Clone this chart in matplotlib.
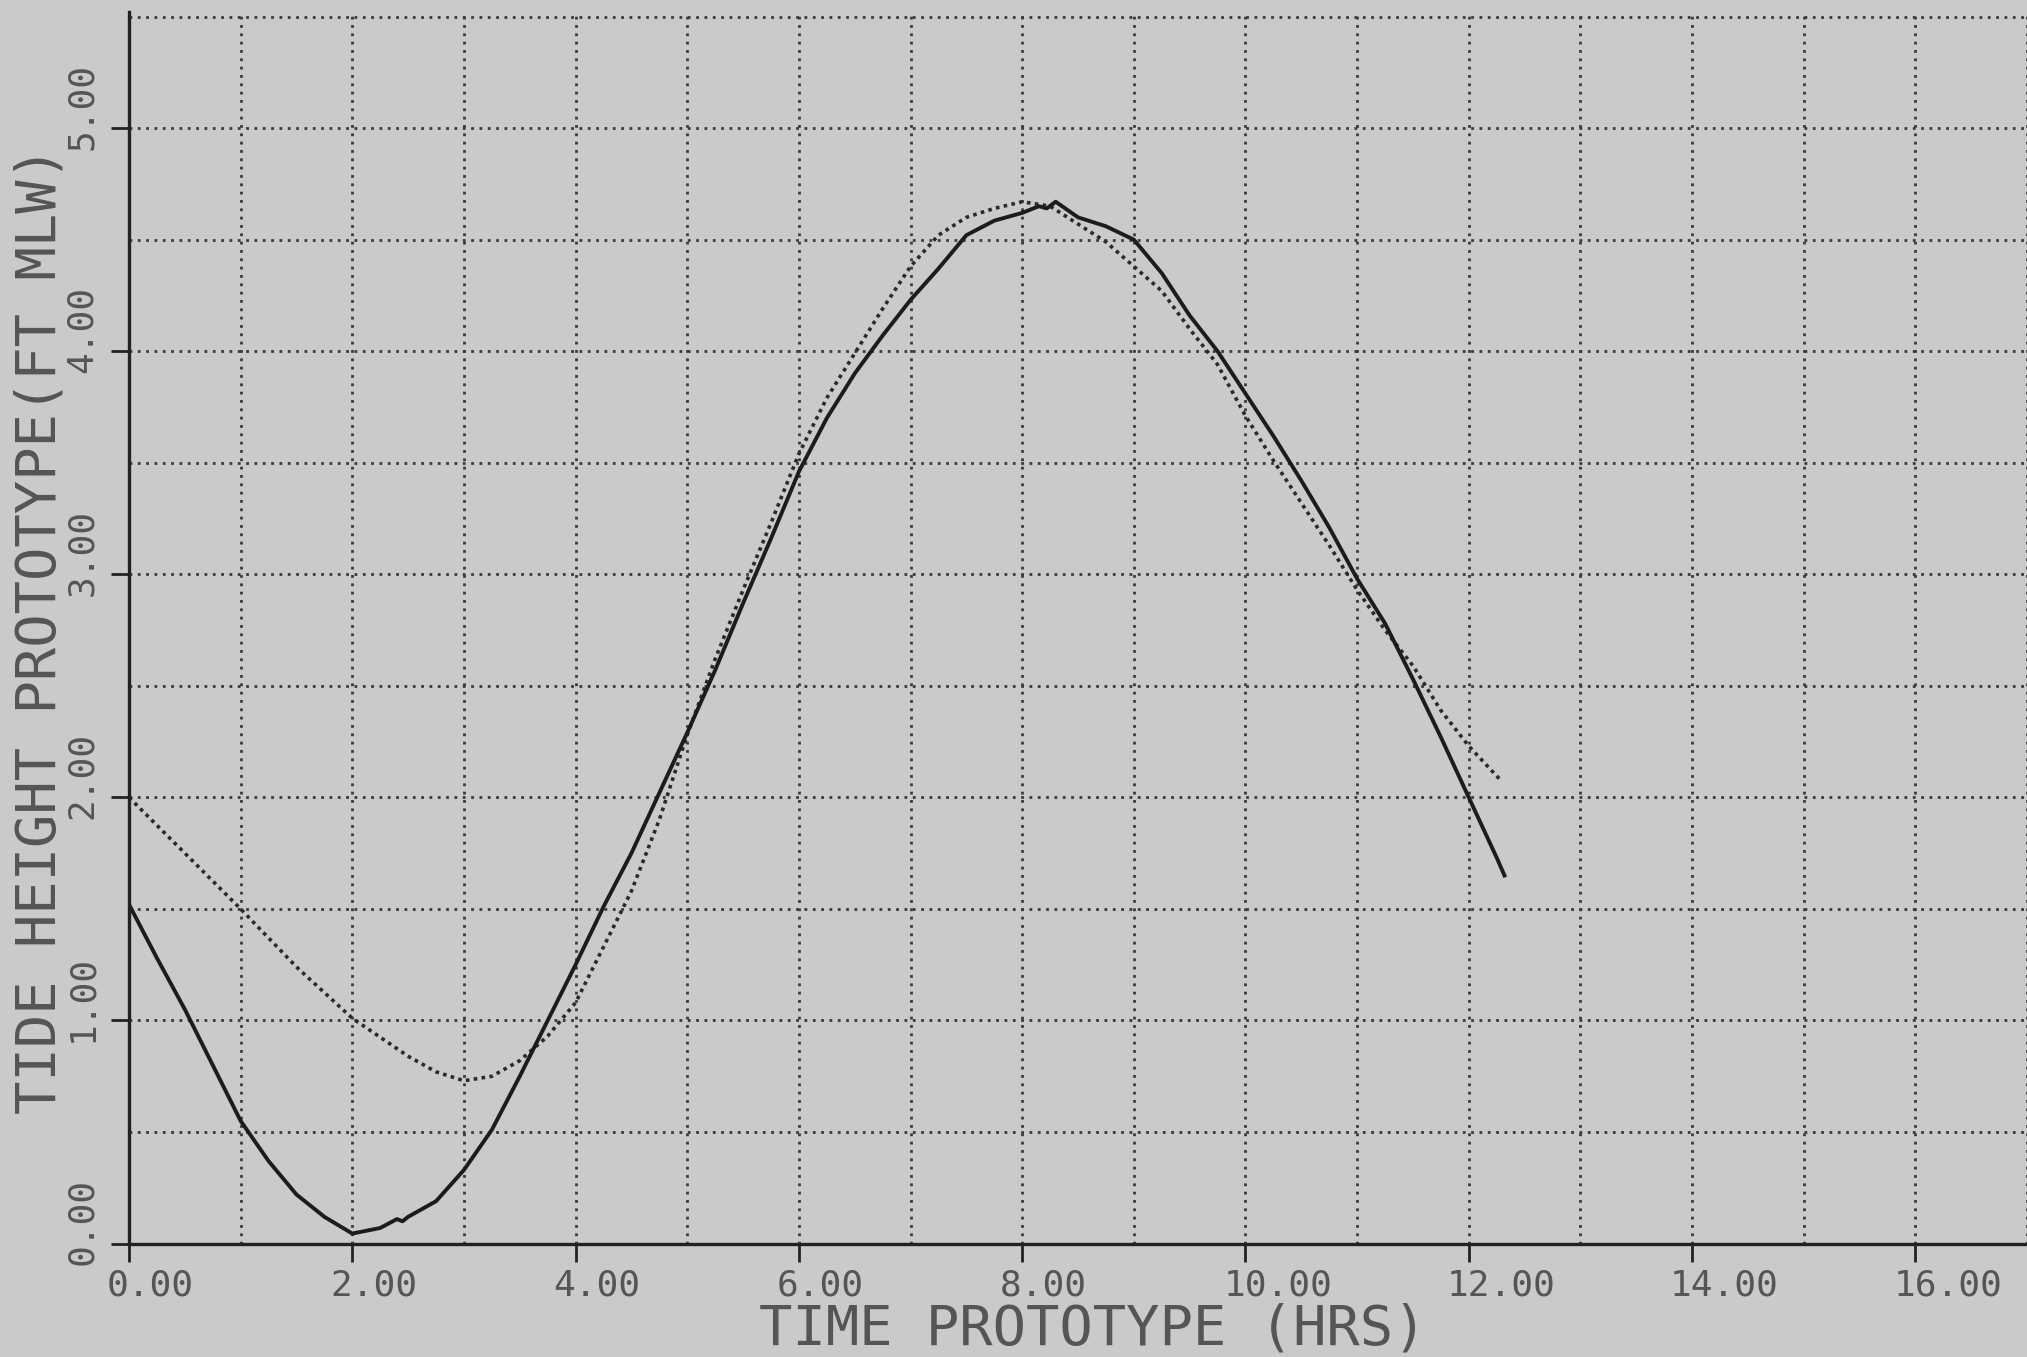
import matplotlib
matplotlib.use("Agg")
import matplotlib.pyplot as plt
import matplotlib.transforms as mtransforms

# ---------------- data ----------------
time_solid = [0, 0.25, 0.5, 0.75, 1.0, 1.25, 1.5, 1.75, 2.0, 2.25, 2.4, 2.45, 2.5,
              2.75, 3.0, 3.25, 3.5, 3.75, 4.0, 4.25, 4.5, 4.75, 5.0, 5.25, 5.5,
              5.75, 6.0, 6.25, 6.5, 6.75, 7.0, 7.25, 7.5, 7.75, 8.0, 8.15, 8.22,
              8.3, 8.5, 8.75, 9.0, 9.25, 9.5, 9.75, 10.0, 10.25, 10.5, 10.75,
              11.0, 11.25, 11.5, 11.75, 12.0, 12.25, 12.32]
height_solid = [1.52, 1.28, 1.05, 0.80, 0.55, 0.37, 0.22, 0.12, 0.045, 0.07, 0.11,
                0.10, 0.12, 0.19, 0.33, 0.51, 0.75, 1.00, 1.25, 1.51, 1.75, 2.02,
                2.29, 2.57, 2.87, 3.16, 3.46, 3.70, 3.90, 4.07, 4.23, 4.37, 4.52,
                4.585, 4.62, 4.65, 4.64, 4.67, 4.60, 4.56, 4.50, 4.35, 4.16, 4.00,
                3.81, 3.62, 3.42, 3.21, 2.98, 2.78, 2.53, 2.27, 2.00, 1.73, 1.65]

time_dotted = [0, 0.5, 1.0, 1.5, 2.0, 2.5, 2.75, 3.0, 3.25, 3.5, 3.75, 4.0, 4.25,
               4.5, 4.75, 5.0, 5.25, 5.5, 5.75, 6.0, 6.25, 6.5, 6.75, 7.0, 7.25,
               7.5, 7.75, 8.0, 8.25, 8.5, 8.75, 9.0, 9.25, 9.5, 9.75, 10.0, 10.25,
               10.5, 10.75, 11.0, 11.25, 11.5, 11.75, 12.0, 12.28]
height_dotted = [2.00, 1.75, 1.50, 1.24, 1.01, 0.84, 0.77, 0.73, 0.75, 0.82, 0.93,
                 1.08, 1.33, 1.58, 1.90, 2.28, 2.62, 2.93, 3.23, 3.54, 3.79, 3.99,
                 4.19, 4.38, 4.52, 4.60, 4.64, 4.67, 4.65, 4.57, 4.49, 4.38, 4.27,
                 4.10, 3.94, 3.71, 3.51, 3.32, 3.13, 2.93, 2.75, 2.59, 2.39, 2.23,
                 2.08]

x_ticks = [0, 2, 4, 6, 8, 10, 12, 14, 16]
x_tick_labels = ["0.00", "2.00", "4.00", "6.00", "8.00", "10.00", "12.00",
                 "14.00", "16.00"]
x_grid = list(range(0, 18))
y_ticks = [0, 1, 2, 3, 4, 5]
y_tick_labels = ["0.00", "1.00", "2.00", "3.00", "4.00", "5.00"]
y_grid = [0.5 * i for i in range(0, 12)]
x_label = "TIME PROTOTYPE (HRS)"
y_label = "TIDE HEIGHT PROTOTYPE(FT MLW)"

# ---------------- figure ----------------
W, H, DPI = 2027, 1357, 100
bg = "#cacac8"
ink = "#222222"
text_col = "#555555"
grid_col = "#3a3a3a"
mono = ["DejaVu Sans Mono"]

fig = plt.figure(figsize=(W / DPI, H / DPI), dpi=DPI)
fig.patch.set_facecolor(bg)

x_px0, y_px0 = 129.0, 1243.6      # pixel of data origin
px_per_hr, px_per_ft = 112.1, 223.1
xmax = (W - x_px0) / px_per_hr
ymax = 5.52
ax = fig.add_axes([x_px0 / W, (H - y_px0) / H, 1 - x_px0 / W,
                   ymax * px_per_ft / H])
ax.set_facecolor(bg)
ax.set_xlim(0, xmax)
ax.set_ylim(0, ymax)

# grid (dotted, every hour / half foot)
ax.set_xticks(x_ticks)
ax.set_xticks([g for g in x_grid if g not in x_ticks], minor=True)
ax.set_yticks(y_ticks)
ax.set_yticks([g for g in y_grid if g not in y_ticks], minor=True)
ax.grid(which="both", linestyle=(0, (1, 2)), linewidth=2.0, color=grid_col)
ax.set_axisbelow(True)

ax.tick_params(which="major", direction="out", length=13, width=2.0,
               color=ink, labelbottom=False, labelleft=False)
ax.tick_params(which="minor", length=0, labelbottom=False, labelleft=False)

for s in ["top", "right"]:
    ax.spines[s].set_visible(False)
for s in ["left", "bottom"]:
    ax.spines[s].set_color(ink)
    ax.spines[s].set_linewidth(2.4)

# data curves
ax.plot(time_dotted, height_dotted, color="#2a2a2a", linewidth=2.6,
        linestyle=(0, (1, 1.2)))
ax.plot(time_solid, height_solid, color="#1c1c1c", linewidth=2.8,
        solid_joinstyle="round")

# tick labels (plotter style: offset from tick)
xtrans = mtransforms.blended_transform_factory(ax.transData, ax.transAxes)
for t, lab in zip(x_ticks, x_tick_labels):
    off = mtransforms.ScaledTranslation(-22 / DPI, -42 / DPI, fig.dpi_scale_trans)
    ax.text(t, 0, lab, transform=xtrans + off, ha="left", va="center",
            fontsize=26, family=mono, color=text_col)

ytrans = mtransforms.blended_transform_factory(ax.transAxes, ax.transData)
for t, lab in zip(y_ticks, y_tick_labels):
    off = mtransforms.ScaledTranslation(-(x_px0 - 82) / DPI, 22 / DPI,
                                        fig.dpi_scale_trans)
    ax.text(0, t, lab, transform=ytrans + off, ha="center", va="center",
            rotation=90, fontsize=26, family=mono, color=text_col)

fig.text(1093 / W, 1 - 1330 / H, x_label, ha="center", va="center",
         fontsize=40, family=mono, color=text_col)
fig.text(41 / W, 1 - 630 / H, y_label, ha="center", va="center", rotation=90,
         fontsize=40, family=mono, color=text_col)

fig.savefig("out.png", dpi=DPI, facecolor=bg)
